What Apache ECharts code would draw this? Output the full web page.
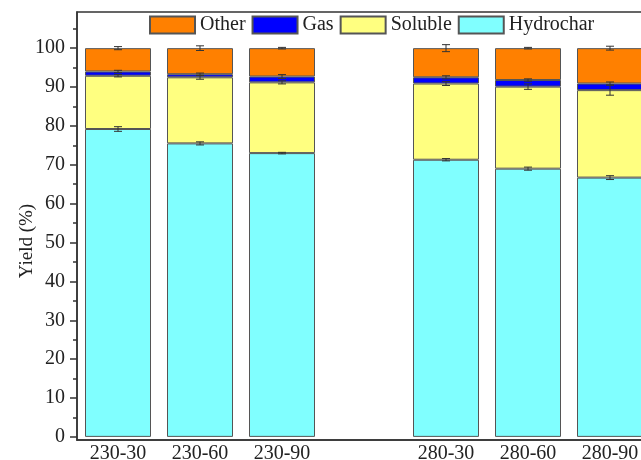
<!DOCTYPE html>
<html><head><meta charset="utf-8">
<script src="https://cdn.jsdelivr.net/npm/echarts@6/dist/echarts.min.js"></script>
<style>html,body{margin:0;padding:0;background:#fff}#c{width:641px;height:460px}</style>
</head><body><div id="c"></div>
<script>
var categories = ['230-30','230-60','230-90','','280-30','280-60','280-90'];
var hydrochar = [79.2, 75.5, 73.0, '-', 71.3, 69.0, 66.7];
var soluble   = [13.7, 17.0, 18.2, '-', 19.6, 21.1, 22.5];
var gas       = [1.1, 0.8, 1.5, '-', 1.6, 1.7, 1.7];
var other     = [6.0, 6.7, 7.3, '-', 7.5, 8.2, 9.1];
var hydrocharErr = [0.6, 0.4, 0.2, '-', 0.3, 0.4, 0.5];
var solubleErr   = [0.3, 0.5, 0.4, '-', 0.5, 0.7, 1.3];
var gasErr       = [0.3, 0.3, 0.5, '-', 0.4, 0.3, 0.4];
var otherErr     = [0.4, 0.6, 0.2, '-', 0.9, 0.2, 0.5];
var majorTicks = [0,10,20,30,40,50,60,70,80,90,100];
var minorTicks = [5,15,25,35,45,55,65,75,85,95,105];

var layers = [hydrochar, soluble, gas, other];
var errs = [hydrocharErr, solubleErr, gasErr, otherErr];
var errData = [];
for (var i = 0; i < categories.length; i++) {
  if (hydrochar[i] === '-') continue;
  var cum = 0;
  for (var k = 0; k < layers.length; k++) {
    cum += layers[k][i];
    errData.push([i, cum, errs[k][i]]);
  }
}

var font = 'Liberation Serif';
var chart = echarts.init(document.getElementById('c'));
function bar(name, data, color){
  return {type:'bar', stack:'y', barWidth:66, name:name, data:data,
    itemStyle:{color:color, borderColor:'#555', borderWidth:1}};
}
chart.setOption({
  animation:false,
  textStyle:{fontFamily:font},
  grid:{left:77, top:12, width:574, height:428, outerBoundsMode:'none', containLabel:false,
        show:true, borderColor:'#333', borderWidth:1.5, backgroundColor:'transparent'},
  legend:{
    data:['Other','Gas','Soluble','Hydrochar'],
    left:149, top:15, padding:0, itemWidth:45, itemHeight:17, itemGap:6,
    textStyle:{fontFamily:font, fontSize:20, color:'#222'},
    icon:'rect'
  },
  xAxis:{
    type:'category', data:categories,
    axisLine:{onZero:false, lineStyle:{color:'#333', width:1.5}},
    axisTick:{show:false},
    axisLabel:{fontFamily:font, fontSize:20, color:'#222', margin:4, interval:0},
    splitLine:{show:false}
  },
  yAxis:[{
    type:'value', min:-0.8, max:109.3,
    axisLine:{show:true, lineStyle:{color:'#333', width:1.5}},
    axisTick:{show:true, length:7, customValues:majorTicks, lineStyle:{color:'#333', width:1.5}},
    axisLabel:{fontFamily:font, fontSize:20, color:'#222', margin:12, customValues:majorTicks},
    splitLine:{show:false}
  },{
    type:'value', min:-0.8, max:109.3, position:'left',
    axisLine:{show:false},
    axisTick:{show:true, length:4, customValues:minorTicks, lineStyle:{color:'#333', width:1.5}},
    axisLabel:{show:false, customValues:minorTicks},
    splitLine:{show:false}
  }],
  graphic:[{
    type:'text', x:27, y:241, rotation:Math.PI/2,
    style:{text:'Yield (%)', font:'19px "Liberation Serif"', fill:'#222', align:'center', verticalAlign:'middle'}
  }],
  series:[
    bar('Hydrochar', hydrochar, '#80FFFF'),
    bar('Soluble', soluble, '#FFFF80'),
    bar('Gas', gas, '#0000FF'),
    bar('Other', other, '#FF8000'),
    {
      type:'custom', name:'err', data:errData, z:10, silent:true,
      renderItem:function(params, api){
        var x = api.value(0), y = api.value(1), e = api.value(2);
        var top = api.coord([x, y + e]);
        var bot = api.coord([x, y - e]);
        var hw = 4;
        var s = {stroke:'#333', lineWidth:1};
        return {type:'group', children:[
          {type:'line', shape:{x1:top[0], y1:top[1], x2:bot[0], y2:bot[1]}, style:s},
          {type:'line', shape:{x1:top[0]-hw, y1:top[1], x2:top[0]+hw, y2:top[1]}, style:s},
          {type:'line', shape:{x1:bot[0]-hw, y1:bot[1], x2:bot[0]+hw, y2:bot[1]}, style:s}
        ]};
      }
    }
  ]
});
</script></body></html>
